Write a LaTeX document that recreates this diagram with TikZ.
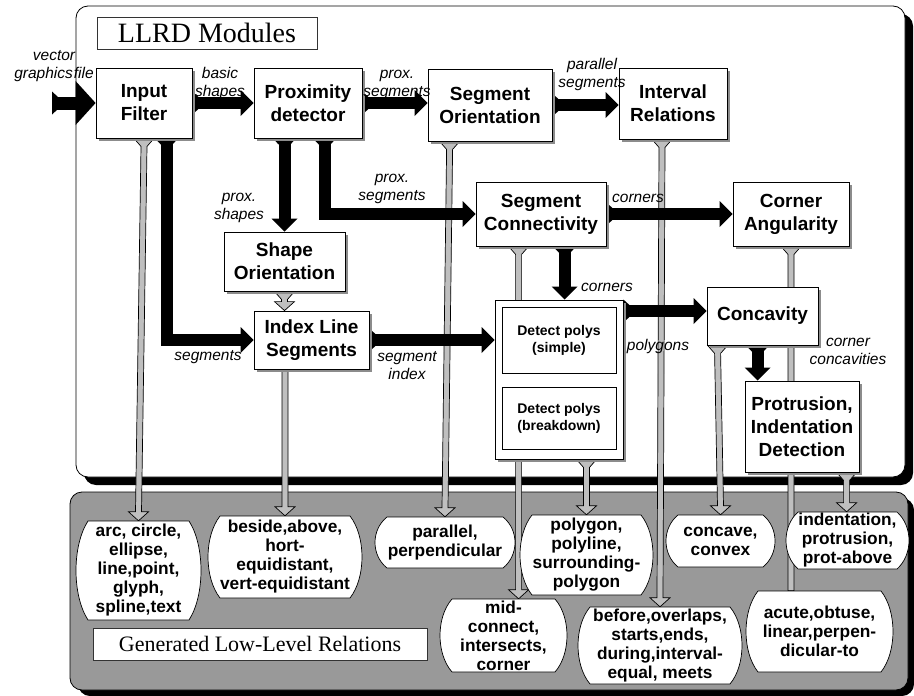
\documentclass[tikz,border=0pt]{standalone}
\usepackage{fontspec}
\setmainfont{Liberation Serif}
\setsansfont{Liberation Sans}
\usetikzlibrary{arrows.meta,calc,shadows}
\pgfdeclarelayer{panel}
\pgfdeclarelayer{links}
\pgfsetlayers{panel,links,main}

\tikzset{
  modbox/.style={draw, line width=0.8pt, fill=white, align=center, inner sep=0pt,
    font=\sffamily\bfseries\fontsize{19}{23}\selectfont,
    drop shadow={shadow xshift=2.5pt, shadow yshift=-2.5pt, fill=black!45, opacity=1}},
  innerbox/.style={draw, line width=0.7pt, fill=white, align=center, inner sep=0pt,
    font=\sffamily\bfseries\fontsize{14}{17}\selectfont},
  headbox/.style={draw=black!80, line width=0.8pt, fill=white, inner sep=0pt,
    font=\fontsize{28}{30}\selectfont},
  fatarrow/.style={line width=12pt, -{Triangle[length=13pt,width=26pt,line width=0pt]}},
  lbl/.style={font=\sffamily\itshape\fontsize{15.5}{18}\selectfont, align=center, inner sep=0pt},
  reltxt/.style={font=\sffamily\bfseries\fontsize{17.3}{19}\selectfont, align=center, inner sep=0pt},
  relframe/.style={draw, line width=0.7pt, fill=white},
  gl/.style={draw=black, line width=0.7pt, fill=black!25, line join=miter}
}

% gray relation link: flared top, stem, arrow head
\newcommand\glink[2]{%
  \path[gl] let \p1=(#1), \p2=(#2) in
    (\x1-10pt,\y1) -- (\x1-3pt,\y1-8pt) -- (\x2-3pt,\y2+9pt) -- (\x2-10pt,\y2+9pt)
    -- (\x2,\y2) -- (\x2+10pt,\y2+9pt) -- (\x2+3pt,\y2+9pt) -- (\x1+3pt,\y1-8pt)
    -- (\x1+10pt,\y1) -- cycle;}
% gray link without the flared top
\newcommand\glinknf[2]{%
  \path[gl] let \p1=(#1), \p2=(#2) in
    (\x1-3pt,\y1) -- (\x2-3pt,\y2+9pt) -- (\x2-10pt,\y2+9pt)
    -- (\x2,\y2) -- (\x2+10pt,\y2+9pt) -- (\x2+3pt,\y2+9pt) -- (\x1+3pt,\y1) -- cycle;}
% gray link without the arrow head
\newcommand\glinknh[2]{%
  \path[gl] let \p1=(#1), \p2=(#2) in
    (\x1-10pt,\y1) -- (\x1-3pt,\y1-8pt) -- (\x2-3pt,\y2) -- (\x2+3pt,\y2)
    -- (\x1+3pt,\y1-8pt) -- (\x1+10pt,\y1) -- cycle;}
% flared tails of the black flow arrows
\newcommand\flareR[1]{\fill (#1) ++(0,-11.5) -- ++(6,5.5) -- ++(0,12) -- ++(-6,5.5) -- cycle;}
\newcommand\flareD[1]{\fill (#1) ++(-11.5,0) -- ++(5.5,6) -- ++(12,0) -- ++(5.5,-6) -- cycle;}
% barrel-shaped relation box: name, x1, y1, x2, y2, text
\newcommand\relshape[6]{%
  \draw[relframe] ({#2+12},#3) -- ({#4-12},#3)
    .. controls ({#4+4},{#3+(#5-#3)/4}) and ({#4+4},{#5-(#5-#3)/4}) .. ({#4-12},#5)
    -- ({#2+12},#5)
    .. controls ({#2-4},{#5-(#5-#3)/4}) and ({#2-4},{#3+(#5-#3)/4}) .. cycle;
  \node[inner sep=0pt, minimum width={(#4-#2)*1pt}, minimum height={(#5-#3)*1pt}]
    (#1) at ({(#2+#4)/2},{(#3+#5)/2}) {};
  \node[reltxt] (#1-t) at (#1) {#6};}

\begin{document}
\begin{tikzpicture}[x=1pt, y=-1pt]
\useasboundingbox (0,0) rectangle (914,696);

% panels
\begin{pgfonlayer}{panel}
  \fill[rounded corners=12pt] (84,14) rectangle (913,485);
  \draw[line width=0.8pt, fill=white, rounded corners=12pt] (76,6) rectangle (905,477);
  \fill[rounded corners=12pt] (78,498) rectangle (914,696);
  \draw[line width=0.8pt, fill=black!40, rounded corners=12pt] (70,492) rectangle (908,690);
\end{pgfonlayer}

\node[headbox, minimum width=220pt, minimum height=32pt] (ttl) at (207,33) {LLRD Modules};
\node[headbox, font=\fontsize{22}{24}\selectfont, minimum width=334pt, minimum height=32pt]
  (gen) at (260,644) {Generated Low-Level Relations};

% modules
\node[modbox, minimum width=96pt, minimum height=70pt] (inp) at (144,103) {Input\\Filter};
\node[modbox, minimum width=108pt, minimum height=70pt] (prox) at (308,103) {Proximity\\detector};
\node[modbox, minimum width=124pt, minimum height=72pt] (sor) at (490,105) {Segment\\Orientation};
\node[modbox, minimum width=108pt, minimum height=71pt] (ivr) at (673,103.5) {Interval\\Relations};
\node[modbox, minimum width=130pt, minimum height=64pt] (scon) at (541,214) {Segment\\Connectivity};
\node[modbox, minimum width=116pt, minimum height=64pt] (cang) at (791,214) {Corner\\Angularity};
\node[modbox, minimum width=121pt, minimum height=59pt] (shor) at (284.5,261.5) {Shape\\Orientation};
\node[modbox, minimum width=115pt, minimum height=58pt] (ils) at (311.5,340) {Index Line\\Segments};
\node[modbox, minimum width=128pt, minimum height=159pt] (dp) at (559,379.5) {};
\node[innerbox, minimum width=114pt, minimum height=66pt] (dps) at (559,340) {Detect polys\\(simple)};
\node[innerbox, minimum width=114pt, minimum height=62pt] (dpb) at (559,418) {Detect polys\\(breakdown)};
\node[modbox, minimum width=111pt, minimum height=58pt] (conc) at (762.5,316) {Concavity};
\node[modbox, minimum width=114pt, minimum height=91pt] (prot) at (802,426.5) {Protrusion,\\Indentation\\Detection};

% generated relations
\relshape{arc}{76}{521}{201}{620}{arc, circle,\\ellipse,\\line,point,\\glyph,\\spline,text}
\relshape{beside}{208}{516}{362}{598}{beside,above,\\hort-\\equidistant,\\vert-equidistant}
\relshape{par}{375}{517}{515}{568}{parallel,\\perpendicular}
\relshape{poly}{520}{515}{653}{595}{polygon,\\polyline,\\surrounding-\\polygon}
\relshape{cc}{666}{515}{775}{567}{concave,\\convex}
\relshape{ind}{786}{512}{909}{569}{indentation,\\protrusion,\\prot-above}
\relshape{mid}{440}{599}{567}{672}{mid-\\connect,\\intersects,\\corner}
\relshape{bef}{578}{607}{742}{684}{before,overlaps,\\starts,ends,\\during,interval-\\equal, meets}
\relshape{acu}{746}{591}{893}{672}{acute,obtuse,\\linear,perpen-\\dicular-to}

% helper points on box edges
\coordinate (vin) at (52,103);
\coordinate (e0) at ($(inp.south west)+(71,0)$);
\coordinate (g0) at ($(prox.south west)+(71,0)$);
\coordinate (i0) at ($(scon.south west)+(89,0)$);
\coordinate (kk) at ($(conc.west)+(0,-5)$);
\coordinate (l0) at ($(conc.south west)+(51,0)$);
\coordinate (g6) at ($(scon.south west)+(43,0)$);
\coordinate (g10) at ($(prot.south west)+(102,0)$);

\begin{pgfonlayer}{links}
  % relation links
  \glink{inp.south}{arc.north}
  \glinknf{beside.north |- ils.south}{beside.north}
  \glink{shor.south}{shor.south |- ils.north}
  \glink{$(sor.south west)+(22,0)$}{par.north}
  \glink{$(ivr.south)+(-11,0)$}{bef.north}
  \glink{g6}{g6 |- mid.north}
  \glink{poly.north |- dp.south}{poly.north}
  \glink{$(conc.south west)+(11,0)$}{cc.north}
  \glinknh{cang.south}{cang.south |- acu.north}
  \glink{g10}{g10 |- ind.north}

  % data flow
  \draw[fatarrow, line width=13pt, -{Triangle[length=20pt,width=44pt,line width=0pt]}] (vin) -- (inp.west);
  \flareR{vin}
  \draw[fatarrow] (inp.east) -- (prox.west);            \flareR{inp.east}
  \draw[fatarrow] (prox.east) -- (prox.east -| sor.west); \flareR{prox.east}
  \draw[fatarrow] (sor.east) -- (sor.east -| ivr.west);   \flareR{sor.east}
  \draw[fatarrow] (e0) |- (ils.west);                   \flareD{e0}
  \draw[fatarrow] (shor.north |- prox.south) -- (shor.north); \flareD{shor.north |- prox.south}
  \draw[fatarrow] (g0) |- (scon.west);                  \flareD{g0}
  \draw[fatarrow] (scon.east) -- (cang.west);           \flareR{scon.east}
  \draw[fatarrow] (i0) -- (i0 |- dp.north);             \flareD{i0}
  \draw[fatarrow] (ils.east) -- (ils.east -| dp.west);  \flareR{ils.east}
  \draw[fatarrow] (kk -| dp.east) -- (kk);              \flareR{kk -| dp.east}
  \draw[fatarrow] (l0) -- (l0 |- prot.north);           \flareD{l0}
\end{pgfonlayer}

% flow labels
\node[lbl] (t-vec) at (54,66) {vector\\graphics\hspace{1pt}file};
\node[lbl] (t-basic) at (220,83) {basic\\shapes};
\node[lbl] (t-ps1) at (397,85) {prox.\\segments};
\node[lbl] (t-par) at (592,74) {parallel\\segments};
\node[lbl] (t-psh) at (239,208) {prox.\\shapes};
\node[lbl] (t-ps2) at (392,189) {prox.\\segments};
\node[lbl] (t-cor1) at (638,198) {corners};
\node[lbl] (t-cor2) at (607,287) {corners};
\node[lbl] (t-seg) at (208,357) {segments};
\node[lbl] (t-sidx) at (407,366) {segment\\index};
\node[lbl] (t-poly) at (658,346) {polygons};
\node[lbl] (t-cc) at (848,351) {corner\\concavities};
\end{tikzpicture}
\end{document}
